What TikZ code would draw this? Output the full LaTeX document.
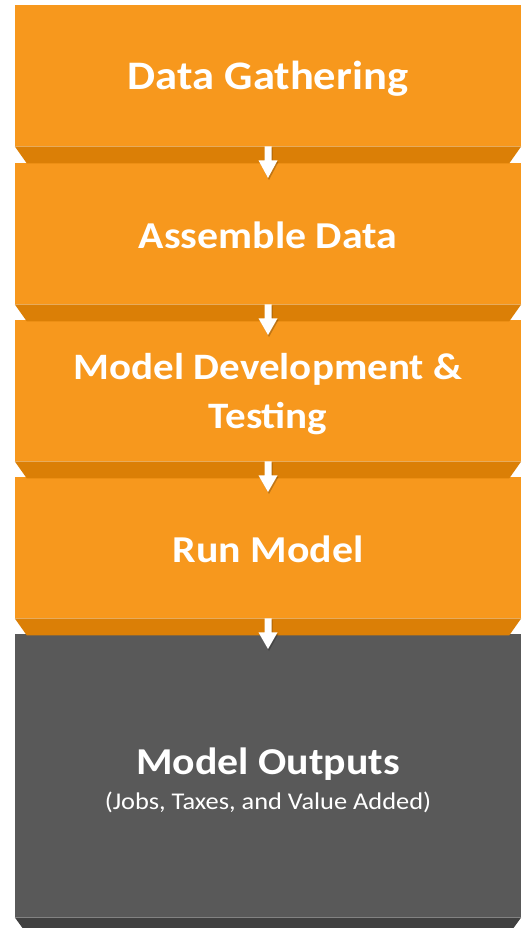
\documentclass[tikz,border=0pt]{standalone}
\usepackage{fontspec}
\setmainfont[FakeStretch=1.1]{Carlito}
\usetikzlibrary{calc}
\definecolor{orng}{HTML}{F7981D}
\definecolor{orngdk}{HTML}{DB7F06}
\definecolor{gry}{HTML}{595959}
\definecolor{grydk}{HTML}{404040}
\newcommand\stagearrow[2]{%
  \fill[black,opacity=0.22] ($(#1.south)+(-2.5,1.5)$) -- ($(#1.south)+(4.5,1.5)$) -- ($(#1.south)+(4.5,15.5)$) -- ($(#1.south)+(10.5,15.5)$) -- ($(#2.north)+(1,17)$) -- ($(#1.south)+(-8.5,15.5)$) -- ($(#1.south)+(-2.5,15.5)$) -- cycle;
  \fill[white] ($(#1.south)+(-3.5,0)$) -- ($(#1.south)+(3.5,0)$) -- ($(#1.south)+(3.5,14)$) -- ($(#1.south)+(9.5,14)$) -- ($(#2.north)+(0,15)$) -- ($(#1.south)+(-9.5,14)$) -- ($(#1.south)+(-3.5,14)$) -- cycle;
}
\newcommand\stageband[2]{%
  \fill[#2] (#1.south west) -- (#1.south east) -- ($(#1.south east)+(-12,17)$) -- ($(#1.south west)+(12,17)$) -- cycle;
}
\begin{document}
\begin{tikzpicture}[x=1pt,y=-1pt,
  stepbox/.style={fill=orng, minimum width=506pt, minimum height=141pt, inner sep=0pt, anchor=north},
  outbox/.style={stepbox, fill=gry, minimum height=283pt},
  steptext/.style={text=white, inner sep=0pt, font=\fontsize{38}{49}\selectfont\bfseries, align=center}]
\useasboundingbox (0,0) rectangle (530,928);
\fill[white] (0,0) rectangle (530,928);
\node[stepbox] (s1) at (268,5) {};
\node[stepbox] (s2) at (268,163) {};
\node[stepbox] (s3) at (268,320) {};
\node[stepbox] (s4) at (268,477) {};
\node[outbox] (s5) at (268,634) {};
\node[steptext, font=\fontsize{40.5}{49}\selectfont\bfseries] (t1) at ($(s1.center)+(0,3)$) {Data Gathering};
\node[steptext] (t2) at ($(s2.center)+(0,2)$) {Assemble Data};
\node[steptext, font=\fontsize{37.3}{49}\selectfont\bfseries] (t3) at ($(s3.center)+(0,3.5)$) {Model Development \&\\Testing};
\node[steptext] (t4) at ($(s4.center)+(0,2)$) {Run Model};
\node[steptext] (t5) at ($(s5.center)+(0,5)$) {Model Outputs\\[-14pt]{\fontsize{24}{28}\selectfont\mdseries (Jobs, Taxes, and Value Added)}};
\stageband{s1}{orngdk}
\stageband{s2}{orngdk}
\stageband{s3}{orngdk}
\stageband{s4}{orngdk}
\fill[grydk] (s5.south west) -- (s5.south east) -- ($(s5.south east)+(-8,11)$) -- ($(s5.south west)+(8,11)$) -- cycle;
\stagearrow{s1}{s2}
\stagearrow{s2}{s3}
\stagearrow{s3}{s4}
\stagearrow{s4}{s5}
\end{tikzpicture}
\end{document}
